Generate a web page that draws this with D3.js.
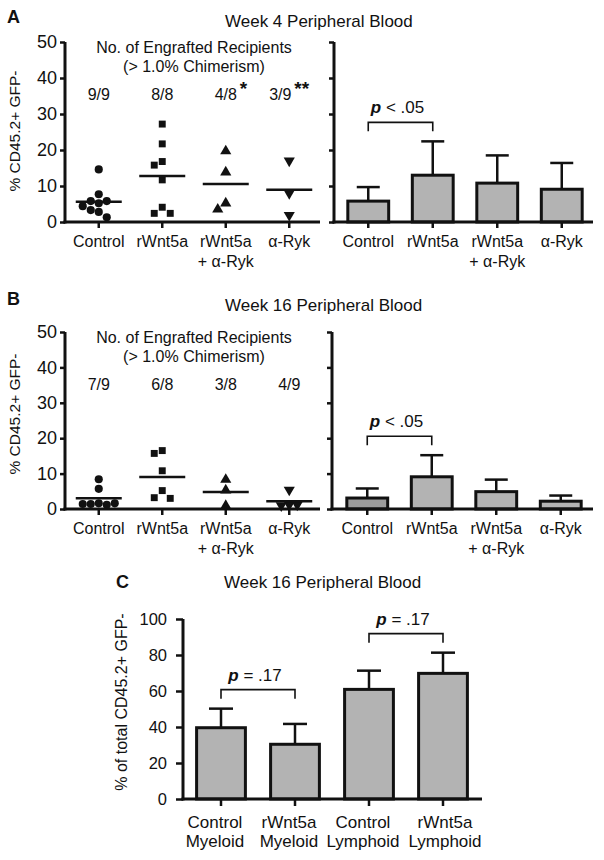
<!DOCTYPE html>
<html><head><meta charset="utf-8">
<script src="https://cdn.jsdelivr.net/npm/d3@7"></script>
<style>
body{margin:0;background:#fff;}
svg text{font-family:"Liberation Sans",Arial,Helvetica,sans-serif;fill:#111;}
</style></head><body>
<svg id="chart" width="604" height="860"></svg>
<script>
// ---------------- DATA ----------------
const groupLabels = [["Control"], ["rWnt5a"], ["rWnt5a", "+ α-Ryk"], ["α-Ryk"]];
const pctTicks = [0, 10, 20, 30, 40, 50];

// Week 4 individual recipients (% CD45.2+ GFP-)
const w4Control  = [14.6, 7.7, 5.8, 5.8, 5.2, 4.4, 3.3, 2.8, 1.3];
const w4Wnt5a    = [27.2, 21.7, 16.8, 15.8, 11.7, 4.1, 2.4, 2.4];
const w4Combo    = [19.7, 13.8, 5.2, 3.5];
const w4AntiRyk  = [17.0, 8.0, 1.9];
const w4Engrafted = ["9/9", "8/8", "4/8", "3/9"];
const w4Stars     = ["", "", "*", "**"];
const w4BarMean   = [5.8, 13.0, 10.8, 9.1];
const w4BarSD     = [3.9, 9.4, 7.7, 7.3];

// Week 16 individual recipients
const w16Control = [8.4, 5.7, 1.6, 1.4, 1.2, 1.4, 1.6];
const w16Wnt5a   = [16.5, 15.7, 10.8, 5.2, 3.2, 3.0];
const w16Combo   = [8.3, 5.3, 0.9];
const w16AntiRyk = [5.4, 1.2, 1.0, 1.2];
const w16Engrafted = ["7/9", "6/8", "3/8", "4/9"];
const w16Stars     = ["", "", "", ""];
const w16BarMean   = [3.1, 9.1, 4.9, 2.2];
const w16BarSD     = [2.7, 6.1, 3.4, 1.6];

const pComparison = [0, 1, "< .05"];

// Panel C: lineage breakdown at week 16
const lineageLabels = [["Control", "Myeloid"], ["rWnt5a", "Myeloid"], ["Control", "Lymphoid"], ["rWnt5a", "Lymphoid"]];
const lineageMean = [39.6, 30.4, 60.9, 69.8];
const lineageSD   = [10.6, 11.3, 10.4, 11.5];
const lineageTicks = [0, 20, 40, 60, 80, 100];
const lineageComparisons = [[0, 1, "= .17"], [2, 3, "= .17"]];

// ---------------- DRAWING ----------------
const svg = d3.select("#chart");
const FONT = '"Liberation Sans", Arial, Helvetica, sans-serif';
const INK = "#111";
const AXW = 3;
const BAR_FILL = "#b3b3b3";

function txt(x, y, s, opts = {}) {
  return svg.append("text").attr("x", x).attr("y", y)
    .attr("font-size", opts.size || 16)
    .attr("font-weight", opts.weight || "normal")
    .attr("text-anchor", opts.anchor || "start")
    .attr("fill", INK).text(s);
}

function yAxis(y, x0, ticks, labels, size, pad, fs) {
  const ax = d3.axisLeft(y).tickValues(ticks).tickSize(size).tickPadding(pad).tickSizeOuter(0)
    .tickFormat(labels ? d3.format("d") : () => "");
  const g = svg.append("g").attr("transform", `translate(${x0},0)`).call(ax);
  g.select(".domain").remove();
  g.selectAll(".tick line").attr("stroke", INK).attr("stroke-width", 2.5);
  g.selectAll(".tick text").attr("font-size", fs).attr("font-family", FONT).attr("fill", INK);
  const [a, b] = y.range();
  g.append("line").attr("x1", 0).attr("x2", 0).attr("y1", a + AXW / 2).attr("y2", b)
    .attr("stroke", INK).attr("stroke-width", AXW);
}

function xAxis(x, y0, xStart, xEnd, labels, fs, lineH, labelDy, tickLen, shiftFn) {
  const ax = d3.axisBottom(x).tickSize(tickLen).tickSizeOuter(0).tickFormat(() => "");
  const g = svg.append("g").attr("transform", `translate(0,${y0})`).call(ax);
  g.select(".domain").remove();
  g.selectAll(".tick line").attr("stroke", INK).attr("stroke-width", 2.5);
  g.selectAll(".tick text").remove();
  g.append("line").attr("x1", xStart - AXW / 2).attr("x2", xEnd).attr("y1", 0).attr("y2", 0)
    .attr("stroke", INK).attr("stroke-width", AXW);
  x.domain().forEach((d, i) => {
    const cx = x(d) + x.bandwidth() / 2 + (shiftFn ? shiftFn(i) : 0);
    const t = g.append("text").attr("x", cx).attr("y", labelDy).attr("text-anchor", "middle")
      .attr("font-size", fs).attr("fill", INK);
    labels[i].forEach((s, j) => t.append("tspan").attr("x", cx).attr("dy", j ? lineH : 0).text(s));
  });
}

function dodge(values, y, step, minDist) {
  const placed = [];
  return values.map(v => {
    const py = y(v);
    for (let k = 0; k < 40; k++) {
      const off = k === 0 ? 0 : (k % 2 ? -Math.ceil(k / 2) : Math.ceil(k / 2)) * step;
      if (placed.every(p => Math.hypot(p.x - off, p.y - py) >= minDist)) {
        placed.push({ x: off, y: py });
        return { v, off, py };
      }
    }
  });
}

const symbols = [
  d3.symbol().type(d3.symbolCircle).size(52)(),
  d3.symbol().type(d3.symbolSquare).size(48)(),
  d3.symbol().type(d3.symbolTriangle).size(54)(),
  d3.symbol().type(d3.symbolTriangle).size(54)()
];

function scatterPanel(cfg) {
  const y = d3.scaleLinear().domain([0, 50]).range([cfg.bottom, cfg.top]);
  const x = d3.scaleBand().domain(d3.range(4)).range(cfg.xRange).padding(0);
  yAxis(y, cfg.axisX, pctTicks, true, 5, 3, 18);
  xAxis(x, cfg.bottom, cfg.axisX, cfg.xEnd, groupLabels, 16, 20, 24.5, 6);
  cfg.series.forEach((vals, i) => {
    const cx = x(i) + x.bandwidth() / 2;
    dodge(vals, y, 8, 8).forEach(p => {
      svg.append("path").attr("d", symbols[i])
        .attr("transform", `translate(${cx + p.off},${p.py})${i === 3 ? " rotate(180)" : ""}`)
        .attr("fill", INK);
    });
    const m = d3.mean(vals);
    svg.append("line").attr("x1", cx - 23).attr("x2", cx + 23).attr("y1", y(m)).attr("y2", y(m))
      .attr("stroke", INK).attr("stroke-width", 2.5);
    const fx = cx - (cfg.stars[i].length > 1 ? 9 : 0);
    txt(fx, cfg.fracY, cfg.engrafted[i], { anchor: "middle", size: 16 });
    if (cfg.stars[i]) {
      txt(fx + 14, cfg.fracY - 5, cfg.stars[i], { size: 19, weight: "bold" });
    }
  });
  const c = (x(0) + x(3) + x.bandwidth()) / 2;
  txt(c, cfg.fracY - 47, "No. of Engrafted Recipients", { anchor: "middle", size: 16 });
  txt(c, cfg.fracY - 28, "(> 1.0% Chimerism)", { anchor: "middle", size: 16 });
}

function bracket(x1, x2, yBottom, label, fs) {
  const yTop = yBottom - 9;
  svg.append("path").attr("d", `M${x1},${yBottom}V${yTop}H${x2}V${yBottom}`)
    .attr("fill", "none").attr("stroke", INK).attr("stroke-width", 1.6);
  const t = svg.append("text").attr("x", (x1 + x2) / 2 - 3).attr("y", yTop - 9)
    .attr("text-anchor", "middle").attr("font-size", fs).attr("fill", INK);
  t.append("tspan").attr("font-weight", "bold").attr("font-style", "italic").text("p");
  t.append("tspan").text(" " + label);
}

function barPanel(cfg) {
  const y = d3.scaleLinear().domain(cfg.domain).range([cfg.bottom, cfg.top]);
  const x = d3.scaleBand().domain(d3.range(cfg.mean.length)).range(cfg.xRange)
    .paddingInner(cfg.pi).paddingOuter(cfg.po);
  yAxis(y, cfg.axisX, cfg.ticks, cfg.tickLabels, cfg.tickLen, cfg.tickPad, cfg.fs);
  cfg.mean.forEach((m, i) => {
    const cx = x(i) + x.bandwidth() / 2;
    const top = y(m + cfg.sd[i]);
    svg.append("line").attr("x1", cx).attr("x2", cx).attr("y1", y(m)).attr("y2", top)
      .attr("stroke", INK).attr("stroke-width", 2.5);
    svg.append("line").attr("x1", cx - cfg.cap / 2).attr("x2", cx + cfg.cap / 2).attr("y1", top).attr("y2", top)
      .attr("stroke", INK).attr("stroke-width", 2.5);
    svg.append("rect").attr("x", x(i) + 1.5).attr("width", x.bandwidth() - 3)
      .attr("y", y(m)).attr("height", y(0) - y(m))
      .attr("fill", cfg.fillFn ? cfg.fillFn(i) : BAR_FILL).attr("stroke", INK).attr("stroke-width", 3);
  });
  xAxis(x, cfg.bottom, cfg.axisX, cfg.xEnd, cfg.labels, cfg.lfs, cfg.lineH, cfg.labelDy, cfg.xTickLen, cfg.shiftFn);
  cfg.comparisons.forEach(([a, b, lab]) => {
    const ca = x(a) + x.bandwidth() / 2, cb = x(b) + x.bandwidth() / 2;
    const hi = Math.max(cfg.mean[a] + cfg.sd[a], cfg.mean[b] + cfg.sd[b]);
    bracket(ca, cb, y(hi) - 10, lab, cfg.pfs);
  });
}

// ---- Panel A ----
txt(7, 23, "A", { size: 18, weight: "bold" });
txt(225, 27, "Week 4 Peripheral Blood", { size: 17 });
svg.append("text").attr("transform", "translate(20,131) rotate(-90)").attr("text-anchor", "middle")
  .attr("font-size", 15.5).attr("fill", INK).text("% CD45.2+ GFP-");
scatterPanel({ top: 42, bottom: 222, axisX: 65, xEnd: 320, xRange: [67, 321], fracY: 99.5,
  series: [w4Control, w4Wnt5a, w4Combo, w4AntiRyk], engrafted: w4Engrafted, stars: w4Stars });
barPanel({ domain: [0, 50], top: 42, bottom: 222, axisX: 334, xEnd: 593, xRange: [336, 594],
  pi: 0.32, po: 0.16, ticks: pctTicks, tickLabels: false, tickLen: 5, tickPad: 3, fs: 16, lfs: 16,
  mean: w4BarMean, sd: w4BarSD, cap: 23, labels: groupLabels, lineH: 20, labelDy: 24.5, xTickLen: 6,
  comparisons: [pComparison], pfs: 17 });

// ---- Panel B ----
txt(7, 305, "B", { size: 18, weight: "bold" });
txt(225, 311, "Week 16 Peripheral Blood", { size: 17 });
svg.append("text").attr("transform", "translate(20,414) rotate(-90)").attr("text-anchor", "middle")
  .attr("font-size", 15.5).attr("fill", INK).text("% CD45.2+ GFP-");
scatterPanel({ top: 332, bottom: 509, axisX: 65, xEnd: 320, xRange: [67, 321], fracY: 390,
  series: [w16Control, w16Wnt5a, w16Combo, w16AntiRyk], engrafted: w16Engrafted, stars: w16Stars });
barPanel({ domain: [0, 50], top: 332, bottom: 509, axisX: 332, xEnd: 593, xRange: [335, 593],
  pi: 0.32, po: 0.16, ticks: pctTicks, tickLabels: false, tickLen: 5, tickPad: 3, fs: 16, lfs: 16,
  mean: w16BarMean, sd: w16BarSD, cap: 23, labels: groupLabels, lineH: 20, labelDy: 24.5, xTickLen: 6,
  comparisons: [pComparison], pfs: 17, fillFn: i => i === 0 ? "#9c9c9c" : BAR_FILL });

// ---- Panel C ----
txt(116, 588, "C", { size: 18, weight: "bold" });
txt(224, 588, "Week 16 Peripheral Blood", { size: 17 });
svg.append("text").attr("transform", "translate(127,702) rotate(-90)").attr("text-anchor", "middle")
  .attr("font-size", 16).attr("fill", INK).text("% of total CD45.2+ GFP-");
barPanel({ domain: [0, 100], top: 619, bottom: 799, axisX: 183, xEnd: 482, xRange: [184, 480],
  pi: 0.3, po: 0.15, ticks: lineageTicks, tickLabels: true, tickLen: 7, tickPad: 9, fs: 16.5, lfs: 17,
  mean: lineageMean, sd: lineageSD, cap: 24, labels: lineageLabels, lineH: 19, labelDy: 28.7, xTickLen: 7,
  shiftFn: i => i < 3 ? -6 : 2,
  comparisons: lineageComparisons, pfs: 17 });
</script>
</body></html>
